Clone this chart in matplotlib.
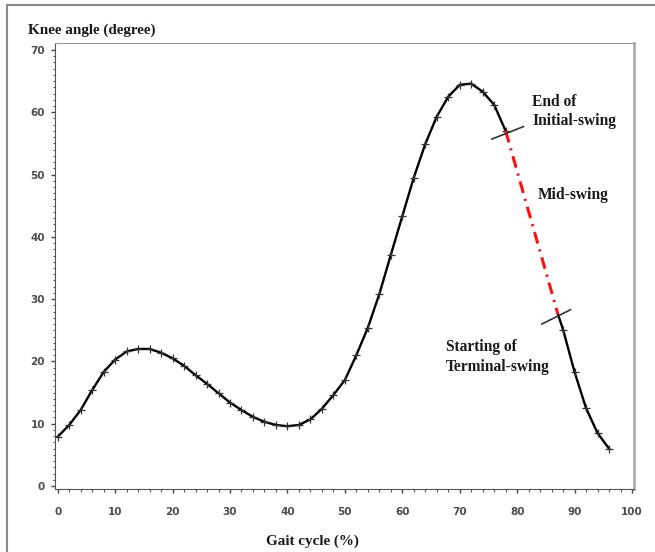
import matplotlib
matplotlib.use("Agg")
import matplotlib.pyplot as plt
from matplotlib.lines import Line2D

# gait cycle (%) and knee angle (degree)
gait = [0, 2, 4, 6, 8, 10, 12, 14, 16, 18, 20, 22, 24, 26, 28, 30, 32, 34, 36, 38,
        40, 42, 44, 46, 48, 50, 52, 54, 56, 58, 60, 62, 64, 66, 68, 70, 72, 74, 76, 78]
knee = [7.9, 9.8, 12.2, 15.4, 18.3, 20.3, 21.6, 22.0, 22.0, 21.4, 20.5, 19.3, 17.8, 16.4,
        14.9, 13.4, 12.2, 11.1, 10.3, 9.8, 9.6, 9.8, 10.7, 12.4, 14.6, 17.0, 21.0, 25.4,
        30.8, 37.1, 43.3, 49.5, 54.9, 59.3, 62.5, 64.4, 64.6, 63.3, 61.2, 57.0]

# terminal swing part
gait_tail = [88, 90, 92, 94, 96]
knee_tail = [25.1, 18.3, 12.5, 8.5, 6.0]

# mid-swing (red) from end of initial swing to start of terminal swing
mid_x = [78, 87.1]
mid_y = [57.0, 27.6]

# short marks across the curve
mark1_x = [75.6, 81.1]
mark1_y = [55.7, 57.7]
mark2_x = [84.3, 89.3]
mark2_y = [26.0, 28.3]

xticks = list(range(0, 101, 10))
yticks = list(range(0, 71, 10))

fig = plt.figure(figsize=(6.55, 5.52), dpi=100)
ax = fig.add_axes([55/655, 1-489/552, (634-55)/655, (489-43)/552])

ax.plot(gait, knee, color="black", lw=1.7, marker="+", ms=5.5, mew=0.9, mec="#333333")
ax.plot([mid_x[1]] + gait_tail, [mid_y[1]] + knee_tail, color="black", lw=1.7)
ax.plot(gait_tail, knee_tail, ls="none", marker="+", ms=5.5, mew=0.9, mec="#333333")
ax.plot(mid_x, mid_y, color="#ff1010", lw=2.2, dashes=(3.9, 2, 0.7, 2))
ax.plot(mark1_x, mark1_y, color="#333333", lw=1.2)
ax.plot(mark2_x, mark2_y, color="#333333", lw=1.2)

serif = dict(family="Liberation Serif", weight="bold", size=11.2, color="#1a1a1a")
ax.text(82.6, 60.1, "End of\nInitial-swing", ha="left", va="center", linespacing=1.3, **serif)
ax.text(83.5, 46.7, "Mid-swing", ha="left", va="center", **serif)
ax.text(67.6, 20.7, "Starting of\nTerminal-swing", ha="left", va="center", linespacing=1.3, **serif)

ax.set_xlim(-0.47, 100.35)
ax.set_ylim(-0.48, 71.12)
ax.set_xticks(xticks)
ax.set_yticks(yticks)
ax.set_xticks(range(0, 101, 2), minor=True)
ax.set_yticks(range(0, 71, 1), minor=True)
ax.tick_params(which="major", length=3.2, width=1, color="#444444")
ax.tick_params(which="minor", length=1.8, width=0.8, color="#555555")
ax.tick_params(axis="x", which="major", pad=10)
ax.tick_params(axis="y", which="major", pad=4)
for lab in ax.get_xticklabels() + ax.get_yticklabels():
    lab.set_fontfamily("DejaVu Sans")
    lab.set_fontweight("bold")
    lab.set_fontsize(7.5)
    lab.set_color("#4d4d4d")

ax.spines["left"].set_color("#555555")
ax.spines["bottom"].set_color("#555555")
ax.spines["top"].set_color("#999999")
ax.spines["right"].set_color("#b0b0b0")
ax.spines["right"].set_linewidth(2)

fig.text(28/655, 1-30/552, "Knee angle (degree)", ha="left", va="center",
         **dict(serif, size=10.9))
fig.text(312/655, 1-541/552, "Gait cycle (%)", ha="center", va="center",
         **dict(serif, size=10.9))

# outer frame of the picture (top and left edge)
fig.add_artist(Line2D([7/655, 1], [1-5/552, 1-5/552], color="#888888", lw=1.5))
fig.add_artist(Line2D([7/655, 7/655], [0, 1-5/552], color="#888888", lw=1.5))

fig.savefig("out.png", dpi=100)
